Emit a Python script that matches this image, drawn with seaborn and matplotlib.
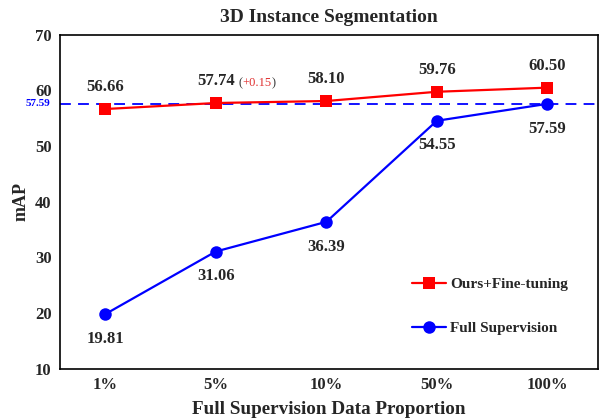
import matplotlib
matplotlib.use("Agg")
import matplotlib.pyplot as plt
import seaborn as sns
import pandas as pd

categories = ["1%", "5%", "10%", "50%", "100%"]
ours = [56.66, 57.74, 58.10, 59.76, 60.50]
full = [19.81, 31.06, 36.39, 54.55, 57.59]
ref_value = 57.59
yticks = [10, 20, 30, 40, 50, 60, 70]

sns.set_theme(style="white")
plt.rcParams["font.family"] = ["Liberation Serif", "DejaVu Serif"]

fig = plt.figure(figsize=(6.0, 4.19), dpi=100)
ax = fig.add_axes([0.1, 0.12, 0.897, 0.797])

x = list(range(len(categories)))
df = pd.DataFrame({"x": x + x,
                   "y": ours + full,
                   "s": ["Ours+Fine-tuning"] * 5 + ["Full Supervision"] * 5})

sns.lineplot(data=df[df.s == "Ours+Fine-tuning"], x="x", y="y", ax=ax, color="red",
             marker="s", markersize=9, markeredgewidth=0, linewidth=1.6, label="Ours+Fine-tuning")
sns.lineplot(data=df[df.s == "Full Supervision"], x="x", y="y", ax=ax, color="blue",
             marker="o", markersize=9, markeredgewidth=0, linewidth=1.6, label="Full Supervision")

ax.axhline(ref_value, color="blue", linestyle=(0, (6, 4)), linewidth=1.3, zorder=1)
ax.annotate(f"{ref_value:.2f}", xy=(0, ref_value), xycoords=("axes fraction", "data"),
            xytext=(-7, 0), textcoords="offset points", color="blue", fontsize=8,
            fontweight="bold", ha="right", va="center")

texts = []
for i, v in enumerate(ours):
    t = ax.text(i, v + 2.5, f"{v:.2f}", ha="center", va="bottom", fontsize=12, fontweight="bold")
    texts.append(t)
a1 = ax.annotate("(", xy=(1, 0), xycoords=texts[1], xytext=(3, 0), textcoords="offset points",
                 ha="left", va="bottom", fontsize=9, color="#333333")
a2 = ax.annotate("+0.15", xy=(1, 0), xycoords=a1, ha="left", va="bottom", fontsize=9,
                 color="#e03030")
ax.annotate(")", xy=(1, 0), xycoords=a2, ha="left", va="bottom", fontsize=9, color="#333333")
for i, v in enumerate(full):
    ax.text(i, v - 3.0, f"{v:.2f}", ha="center", va="top", fontsize=12, fontweight="bold")

ax.set_xlim(-0.41, 4.46)
ax.set_ylim(10, 70)
ax.set_xticks(x)
ax.set_xticklabels(categories, fontsize=12, fontweight="bold")
ax.set_yticks(yticks)
ax.set_yticklabels([str(t) for t in yticks], fontsize=12, fontweight="bold")
ax.set_xlabel("Full Supervision Data Proportion", fontsize=13.8, fontweight="bold", labelpad=6)
ax.set_ylabel("mAP", fontsize=13, fontweight="bold", labelpad=4)
ax.set_title("3D Instance Segmentation", fontsize=14, fontweight="bold", pad=9)
for sp in ax.spines.values():
    sp.set_color("black")
    sp.set_linewidth(1.2)
ax.tick_params(axis="both", which="both", length=0, pad=6)

leg = ax.legend(loc="lower right", bbox_to_anchor=(0.97, 0.06), frameon=False,
                prop={"weight": "bold", "size": 11}, handlelength=2.2, handletextpad=0.3,
                labelspacing=1.95)

fig.savefig("out.png", dpi=100)
